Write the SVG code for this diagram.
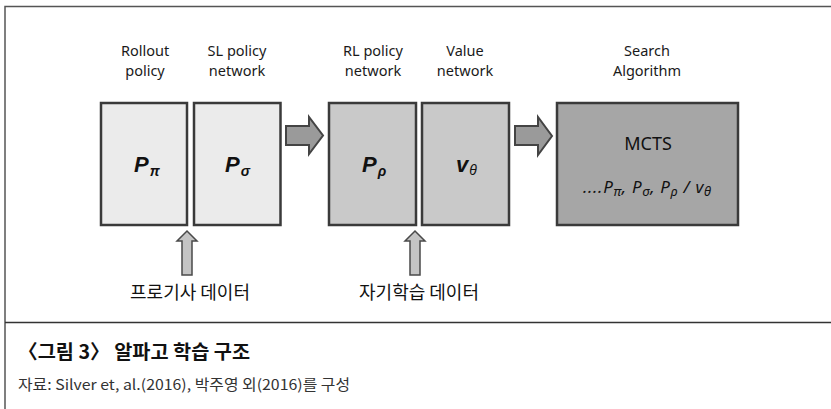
<svg xmlns="http://www.w3.org/2000/svg" width="831" height="409" viewBox="0 0 831 409">
<style>
.bg{fill:#ffffff}
.frame{stroke:#555555;stroke-width:1.5;fill:none}
.rule{stroke:#333333;stroke-width:1.5}
.box{stroke:#3a3a3a;stroke-width:2.5}
.light{fill:#ebebeb}
.mid{fill:#c9c9c9}
.dark{fill:#a6a6a6}
.lbl{font-family:"Noto Sans","Open Sans","DejaVu Sans",sans-serif;font-size:14.5px;fill:#1a1a1a;text-anchor:middle}
.sym{font-family:"Liberation Sans","DejaVu Sans",sans-serif;font-weight:bold;font-style:italic;font-size:22px;fill:#111111}
.sub{font-size:14px}
.mcts{font-family:"Noto Sans","Open Sans",sans-serif;font-size:18px;fill:#111111;text-anchor:middle}
.form{font-family:"Noto Sans","Open Sans",sans-serif;font-style:italic;font-size:17px;fill:#111111}
.fsub{font-size:13px}
.kr{font-family:"Noto Sans CJK KR",sans-serif;font-size:18px;fill:#111111;text-anchor:middle}
.rarrow{fill:#9a9a9a;stroke:#444444;stroke-width:2;stroke-linejoin:miter}
.uarrow{fill:#c4c4c4;stroke:#4a4a4a;stroke-width:1.5}
.cap{font-family:"Noto Sans CJK KR",sans-serif;font-weight:bold;font-size:19.5px;fill:#111111}
.src{font-family:"Noto Sans CJK KR",sans-serif;font-size:14.5px;fill:#333333}
</style>
<rect class="bg" x="0" y="0" width="831" height="409"/>
<path class="frame" d="M5,409 V6.5 H831"/>
<line class="rule" x1="5" y1="322.5" x2="831" y2="322.5"/>

<g id="rollout">
<text class="lbl" x="145" y="55.5">Rollout</text>
<text class="lbl" x="145" y="75.5">policy</text>
<rect class="box light" x="101" y="103" width="86" height="122"/>
<text class="sym" x="134" y="172">P<tspan class="sub" dx="1" dy="4">π</tspan></text>
</g>
<g id="sl-policy">
<text class="lbl" x="237" y="55.5">SL policy</text>
<text class="lbl" x="237" y="75.5">network</text>
<rect class="box light" x="194" y="103" width="86.5" height="122"/>
<text class="sym" x="225" y="172">P<tspan class="sub" dx="1" dy="4">σ</tspan></text>
</g>
<g id="rl-policy">
<text class="lbl" x="373" y="55.5">RL policy</text>
<text class="lbl" x="373" y="75.5">network</text>
<rect class="box mid" x="329" y="103" width="87" height="122"/>
<text class="sym" x="362" y="172">P<tspan class="sub" dx="1" dy="4">ρ</tspan></text>
</g>
<g id="value">
<text class="lbl" x="465" y="55.5">Value</text>
<text class="lbl" x="465" y="75.5">network</text>
<rect class="box mid" x="422" y="103" width="87" height="122"/>
<text class="sym" x="456" y="172">v<tspan class="sub" dx="1" dy="3" font-weight="normal">θ</tspan></text>
</g>
<g id="search">
<text class="lbl" x="647" y="55.5">Search</text>
<text class="lbl" x="647" y="75.5">Algorithm</text>
<rect class="box dark" x="557" y="103" width="181" height="122"/>
<text class="mcts" x="648" y="150">MCTS</text>
<text class="form" x="583" y="193" textLength="128" lengthAdjust="spacing">....P<tspan class="fsub" dy="3">π</tspan><tspan dy="-3">, P</tspan><tspan class="fsub" dy="3">σ</tspan><tspan dy="-3">, P</tspan><tspan class="fsub" dy="3">ρ</tspan><tspan dy="-3"> / v</tspan><tspan class="fsub" dy="3">θ</tspan></text>
</g>
<g id="pro-data">
<text class="kr" x="190" y="299">프로기사 데이터</text>
</g>
<g id="self-data">
<text class="kr" x="419" y="299">자기학습 데이터</text>
</g>

<g id="connectors">
<path class="rarrow" d="M286,126 H309 V117 L323,135.5 L309,154 V145 H286 Z"/>
<path class="rarrow" d="M515,126 H538 V117 L552,136 L538,155 V145 H515 Z"/>
<path class="uarrow" d="M182,275 V241 H177 L187,231 L197,241 H192 V275 Z"/>
<path class="uarrow" d="M410,275 V241 H405 L415,231 L425,241 H420 V275 Z"/>
</g>

<g id="caption">
<text class="cap" x="18" y="359" textLength="232" lengthAdjust="spacingAndGlyphs">〈그림 3〉 알파고 학습 구조</text>
<text class="src" x="18" y="390" textLength="332" lengthAdjust="spacingAndGlyphs">자료: Silver et, al.(2016), 박주영 외(2016)를 구성</text>
</g>
</svg>
